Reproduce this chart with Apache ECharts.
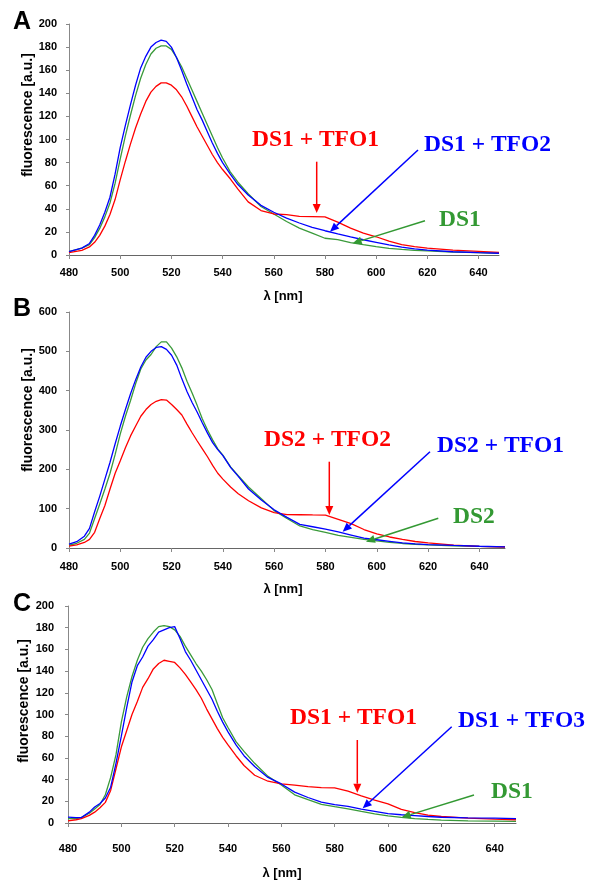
<!DOCTYPE html>
<html><head><meta charset="utf-8">
<script src="https://cdn.jsdelivr.net/npm/echarts@6/dist/echarts.min.js"></script>
<style>html,body{margin:0;padding:0;background:#fff}#c{width:600px;height:889px}</style>
</head><body><div id="c"></div>
<script>
// ---------- DATA ----------
const xTicks = [480, 500, 520, 540, 560, 580, 600, 620, 640];
const yTicksAC = [0, 20, 40, 60, 80, 100, 120, 140, 160, 180, 200];
const yTicksB = [0, 100, 200, 300, 400, 500, 600];

// Panel A: wavelengths and intensities
const wlA = [480,485,488,490,492,494,496,498,500,502,504,506,508,510,512,514,516,518,520,522,524,526,528,530,532,534,536,538,540,543,546,550,555,560,565,570,575,580,585,590,595,600,605,610,615,620,630,640,648];
const aBlue = [3,6,10,17,26,37,50,70,93,112,130,147,162,172,180,184,186,185,180,171,160,148,137,126,117,107,97,88,80,70,61,52,43,37,32,27.7,24,21,18.3,15.7,13.2,11,8.8,6.8,5.3,4.2,2.8,2,1.5];
const aGreen = [3,6,9,15,23,33,45,62,83,103,121,138,153,165,174,179,181,181,178,171,163,153,143,133,123,113,103,93,84,72,63,53,42,35.5,29,23.3,19,14.5,13.3,10.8,9,7.3,5.8,4.8,4,3.5,2.6,2,1.5];
const aRed = [2,4,7,11,17,25,35,48,65,81,96,110,122,133,141,146,149,149,147,143,137,129,120,111,103,95,87,80,74,66,57,46,38.5,35.5,35,33.5,33.3,33,28.5,23.3,19,15.8,12,9,7.2,6,4.3,3.2,2.3];

// Panel B
const wlB = [480,483,486,488,490,492,494,496,498,500,502,504,506,508,510,512,514,516,518,520,522,524,526,528,530,532,534,536,538,540,543,546,550,555,560,565,570,575,580,585,590,595,600,605,610,615,620,630,640,650];
const bBlue = [10,16,30,50,92,132,175,218,265,310,352,392,428,460,485,500,510,512,505,490,465,430,398,370,345,318,292,268,250,235,205,182,150,122,97,78,60,54,48,41,33,25,21,17,13,10.5,8.8,6.5,4.5,3];
const bGreen = [7,12,22,38,75,112,150,190,238,290,335,375,418,455,478,492,512,524,524,508,486,458,424,394,362,328,300,275,252,236,206,184,155,125,95,75,56,47,40,32,27,22,18,14.5,11.5,9.5,8,5.5,4,3];
const bRed = [5,8,14,22,40,75,108,150,190,222,255,285,310,335,352,365,373,377,376,365,352,338,315,293,272,252,232,210,190,175,155,138,120,102,90,85,84.5,84,83.6,73,62,47,36,28,22,16.5,13,7.5,4,2.5];

// Panel C
const wlC = [480,483,485,488,490,492,494,496,498,500,502,504,506,508,510,512,514,516,518,520,522,524,526,528,530,532,534,536,538,540,543,546,550,555,560,565,570,575,580,585,590,595,600,605,610,615,620,630,640,648];
const cBlue = [5.5,5,5,10,14.8,18,23,33,55,80,106,130,145,153,163,169,176,178,180,181,170,158,150,141,132,123,114,103,93,84,72,62,52,42,36,28.5,23.5,19.3,17,15.3,12.8,10.8,8.6,7.6,6.8,6,5.3,4.8,4.5,4];
const cGreen = [4,4,5,9,13,17,26,42,63,93,116,135,150,162,170,176,181,182,181,178,172,163,155,147,140,132,123,110,97,88,75,66,55,43,35,26,21.5,17.2,15,13,10.7,8.5,6.5,5.2,4,3.3,2.7,2,1.8,1.5];
const cRed = [2,3,4,7,10,14,19,30,50,70,85,100,112,125,133,142,147,150,149,148,143,137,130,123,115,105,96,87,79,72,62,53,44,38.5,36,35,33.5,32.6,32.4,29.3,25,21,17.6,12.5,9.5,7.3,6,4.5,3.5,3];

// ---------- STYLE ----------
const RED = '#ff0000', BLUE = '#0000ff', GREEN = '#3a9a3a', GREEN_T = '#339933';
const pair = (xs, ys) => xs.map((x, i) => [x, ys[i]]);

const grids = [
  {left: 69, top: 24, width: 430, height: 231},
  {left: 69, top: 312, width: 436, height: 236},
  {left: 68, top: 606, width: 448, height: 217}
];
const xMax = [648, 650, 648];
const xLabelMargin = [12, 13, 20];
const yLabelMargin = [12, 12, 14];

const xAxes = grids.map((g, i) => ({
  type: 'value', gridIndex: i, min: 480, max: xMax[i], interval: 20,
  axisLine: {show: true, lineStyle: {color: '#666', width: 1}},
  axisTick: {show: true, inside: false, length: 4, lineStyle: {color: '#888'}, customValues: xTicks},
  axisLabel: {show: true, customValues: xTicks, margin: xLabelMargin[i], color: '#000', fontWeight: 'bold', fontSize: 11, fontFamily: '"Liberation Sans", Arial, sans-serif'},
  splitLine: {show: false}
}));
const yAxes = grids.map((g, i) => ({
  type: 'value', gridIndex: i, min: 0, max: i === 1 ? 600 : 200, interval: i === 1 ? 100 : 20,
  axisLine: {show: true, lineStyle: {color: '#888', width: 1}},
  axisTick: {show: true, inside: false, length: 3, lineStyle: {color: '#888'}},
  axisLabel: {show: true, margin: yLabelMargin[i], color: '#000', fontWeight: 'bold', fontSize: 11, fontFamily: '"Liberation Sans", Arial, sans-serif'},
  splitLine: {show: false}
}));

function line(name, idx, xs, ys, color) {
  return {
    name, type: 'line', xAxisIndex: idx, yAxisIndex: idx, data: pair(xs, ys),
    showSymbol: false, symbol: 'none', smooth: false, animation: false,
    lineStyle: {color, width: 1.3}, itemStyle: {color}
  };
}
const series = [
  line('A DS1', 0, wlA, aGreen, GREEN),
  line('A DS1 + TFO1', 0, wlA, aRed, RED),
  line('A DS1 + TFO2', 0, wlA, aBlue, BLUE),
  line('B DS2', 1, wlB, bGreen, GREEN),
  line('B DS2 + TFO2', 1, wlB, bRed, RED),
  line('B DS2 + TFO1', 1, wlB, bBlue, BLUE),
  line('C DS1', 2, wlC, cGreen, GREEN),
  line('C DS1 + TFO1', 2, wlC, cRed, RED),
  line('C DS1 + TFO3', 2, wlC, cBlue, BLUE)
];

// ---------- ANNOTATIONS ----------
const SERIF = 'bold 23.5px "Liberation Serif", "Times New Roman", serif';
const SANS = (s) => 'bold ' + s + 'px "Liberation Sans", Arial, sans-serif';
function txt(text, x, y, color, font, align, rot) {
  return {type: 'text', x, y, rotation: rot || 0, z: 100,
    style: {text, fill: color, font, align: align || 'left', verticalAlign: 'middle'}};
}
function arrow(x1, y1, x2, y2, color) {
  const dx = x2 - x1, dy = y2 - y1, L = Math.hypot(dx, dy), ux = dx / L, uy = dy / L;
  const hl = 9, hw = 4;
  const bx = x2 - ux * hl, by = y2 - uy * hl;
  return [
    {type: 'line', z: 100, shape: {x1, y1, x2: bx, y2: by}, style: {stroke: color, lineWidth: 1.5}},
    {type: 'polygon', z: 100, shape: {points: [[x2, y2], [bx - uy * hw, by + ux * hw], [bx + uy * hw, by - ux * hw]]}, style: {fill: color}}
  ];
}
const graphics = [
  txt('A', 22, 22, '#000', SANS(25), 'center'),
  txt('B', 22, 309, '#000', SANS(25), 'center'),
  txt('C', 22, 604, '#000', SANS(25), 'center'),
  txt('fluorescence [a.u.]', 28, 115, '#000', SANS(14), 'center', Math.PI / 2),
  txt('fluorescence [a.u.]', 28, 410, '#000', SANS(14), 'center', Math.PI / 2),
  txt('fluorescence [a.u.]', 24, 701, '#000', SANS(14), 'center', Math.PI / 2),
  txt('λ [nm]', 283, 296, '#000', SANS(13), 'center'),
  txt('λ [nm]', 283, 589, '#000', SANS(13), 'center'),
  txt('λ [nm]', 282, 873, '#000', SANS(13), 'center'),
  // A
  txt('DS1 + TFO1', 252, 140, RED, SERIF),
  txt('DS1 + TFO2', 424, 145, BLUE, SERIF),
  txt('DS1', 439, 220, GREEN_T, SERIF),
  ...arrow(316.7, 161.7, 316.7, 213, RED),
  ...arrow(418, 150, 330, 231.7, BLUE),
  ...arrow(425, 220.7, 352.7, 243.3, GREEN_T),
  // B
  txt('DS2 + TFO2', 264, 440, RED, SERIF),
  txt('DS2 + TFO1', 437, 446, BLUE, SERIF),
  txt('DS2', 453, 517, GREEN_T, SERIF),
  ...arrow(329.3, 461.7, 329.3, 515, RED),
  ...arrow(430, 451.7, 342.7, 531.7, BLUE),
  ...arrow(438.3, 518.3, 366, 541.7, GREEN_T),
  // C
  txt('DS1 + TFO1', 290, 718, RED, SERIF),
  txt('DS1 + TFO3', 458, 721, BLUE, SERIF),
  txt('DS1', 491, 792, GREEN_T, SERIF),
  ...arrow(357.3, 740, 357.3, 792.7, RED),
  ...arrow(451.7, 726.7, 362.7, 808.3, BLUE),
  ...arrow(474, 795, 401.7, 817.3, GREEN_T)
];

const chart = echarts.init(document.getElementById('c'), null, {renderer: 'canvas'});
chart.setOption({
  backgroundColor: '#fff',
  animation: false,
  grid: grids,
  xAxis: xAxes,
  yAxis: yAxes,
  series,
  graphic: graphics
});
</script>
</body></html>
